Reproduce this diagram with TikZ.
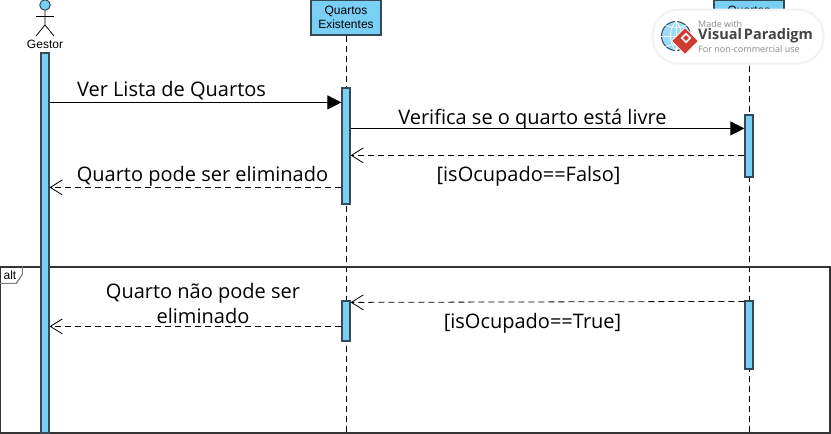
\documentclass[tikz,border=0pt]{standalone}
\usepackage{fontspec}
\setmainfont{Open Sans}
\newfontfamily\smallfont{Liberation Sans}
\usetikzlibrary{arrows.meta,shapes.geometric}
\definecolor{barblue}{HTML}{7ACFF5}
\definecolor{barline}{HTML}{34495A}
\definecolor{framegray}{HTML}{333333}
\definecolor{tabgray}{HTML}{808080}
\definecolor{markred}{HTML}{CF3A31}
\definecolor{marktext}{HTML}{8A8A8A}
\definecolor{markdark}{HTML}{444444}

\begin{document}
\begin{tikzpicture}[x=1pt,y=-1pt,
	life_box/.style={rectangle,draw=barline,fill=barblue,line width=1.3pt,minimum width=70pt,minimum height=35pt,inner sep=0pt,align=center,font=\smallfont\fontsize{12}{14.5}\selectfont},
	act_bar/.style={rectangle,draw=barline,fill=barblue,line width=1.2pt,minimum width=8pt,inner sep=0pt},
	life_line/.style={black,line width=0.8pt,dash pattern=on 6pt off 4pt},
	sync_msg/.style={black,line width=0.8pt,-{Triangle[length=14pt,width=14pt]}},
	back_msg/.style={black,line width=0.8pt,dash pattern=on 6pt off 4pt,-{Straight Barb[length=12pt,width=15pt,line width=0.8pt]}},
	msg_label/.style={inner sep=0pt,align=center,font=\fontsize{20}{25}\selectfont},
	mark_text/.style={inner sep=0pt,anchor=west}]

	\useasboundingbox (0,0) rectangle (831,434);
	\fill[white] (0,0) rectangle (831,434);

	% lifelines
	\node[life_box] (exist) at (346,17.5) {Quartos\\Existentes};
	\node[life_box] (quartos) at (749,17.5) {Quartos\\\phantom{Existentes}};
	\coordinate (existend) at (346,434);
	\coordinate (quartosend) at (749,434);
	\draw[life_line] (exist) -- (existend);
	\draw[life_line] (quartos) -- (quartosend);

	% alt frame
	\node[rectangle,draw=framegray,line width=1.3pt,minimum width=830pt,minimum height=166pt,inner sep=0pt] (altframe) at (415,350) {};
	\node[inner sep=0pt,font=\smallfont\fontsize{12}{14}\selectfont] (alttext) at (10,275) {alt};
	\draw[tabgray,line width=1.2pt] (altframe.north west) ++(23,0) -- ++(0,8) -- ++(-6,9) -- ++(-17,0);

	% actor
	\node[circle,draw=barline,fill=barblue,line width=1pt,minimum size=10.5pt,inner sep=0pt] (head) at (45,5) {};
	\coordinate (hip) at (45,25);
	\coordinate (armleft) at (36,16);
	\coordinate (armright) at (54,16);
	\coordinate (legleft) at (36,36);
	\coordinate (legright) at (54,36);
	\draw[black,line width=0.8pt] (head) -- (hip) -- (legleft);
	\draw[black,line width=0.8pt] (hip) -- (legright);
	\draw[black,line width=0.8pt] (armleft) -- (armright);
	\node[inner sep=0pt,font=\smallfont\fontsize{12}{14}\selectfont] (gestor) at (45,44) {Gestor};

	% activation bars
	\node[act_bar,minimum height=380pt] (gestorbar) at (45,243) {};
	\node[act_bar,minimum height=116pt] (existbar1) at (346,146) {};
	\node[act_bar,minimum height=40pt] (existbar2) at (346,321) {};
	\node[act_bar,minimum height=62pt] (quartosbar1) at (749,146) {};
	\node[act_bar,minimum height=68pt] (quartosbar2) at (749,335) {};

	% messages
	\draw[sync_msg] ([yshift=-50pt]gestorbar.north east) -- ([yshift=-15pt]existbar1.north west);
	\draw[sync_msg] ([yshift=-41pt]existbar1.north east) -- ([yshift=-14pt]quartosbar1.north west);
	\draw[back_msg] ([yshift=-41pt]quartosbar1.north west) -- ([yshift=-68pt]existbar1.north east);
	\draw[back_msg] ([yshift=-100pt]existbar1.north west) -- ([yshift=-135pt]gestorbar.north east);
	\draw[back_msg] ([yshift=-1pt]quartosbar2.north west) -- ([yshift=-2pt]existbar2.north east);
	\draw[back_msg] ([yshift=-26pt]existbar2.north west) -- ([yshift=-274pt]gestorbar.north east);

	\node[msg_label] (msgver) at (171.5,90.5) {Ver Lista de Quartos};
	\node[msg_label] (msgverifica) at (532.5,119.5) {Verifica se o quarto está livre};
	\node[msg_label] (msgfalso) at (528.5,176) {[isOcupado==Falso]};
	\node[msg_label] (msgpode) at (202.5,176) {Quarto pode ser eliminado};
	\node[msg_label] (msgnao) at (203,303) {Quarto não pode ser\\eliminado};
	\node[msg_label] (msgtrue) at (532.5,323.5) {[isOcupado==True]};

	% watermark
	\node[rectangle,rounded corners=26pt,fill=white,draw=black!5,line width=2pt,minimum width=171pt,minimum height=54pt,inner sep=0pt] (badge) at (738,36.5) {};
	\node[circle,draw=barline,fill=barblue!75,line width=1pt,minimum size=29pt,inner sep=0pt] (globe) at (676,36) {};
	\draw[white,line width=0.8pt] (globe.north) -- (globe.south);
	\draw[white,line width=0.8pt] (globe.west) -- (globe.east);
	\draw[white,line width=0.8pt] (globe.north) to[bend right=40] (globe.south);
	\draw[white,line width=0.8pt] (globe.north) to[bend left=40] (globe.south);
	\draw[white,line width=0.8pt] (globe.north west) to[bend right=20] (globe.north east);
	\draw[white,line width=0.8pt] (globe.south west) to[bend left=20] (globe.south east);
	\node[diamond,fill=markred,draw=white,line width=0.8pt,minimum size=27pt,inner sep=0pt] (markdiamond) at (685,41) {};
	\node[diamond,draw=white,line width=1.6pt,minimum size=9pt,inner sep=0pt] (markhole) at (686,38) {};
	\node[mark_text,text=marktext,font=\fontsize{9}{11}\selectfont] (madewith) at (698,24) {Made with};
	\node[mark_text,text=markdark,font=\bfseries\fontsize{14.5}{18}\selectfont] (vpname) at (698,36) {Visual\kern2pt Paradigm};
	\node[mark_text,text=marktext,font=\fontsize{9}{11}\selectfont] (noncomm) at (698,49) {For non-commercial use};

\end{tikzpicture}
\end{document}
